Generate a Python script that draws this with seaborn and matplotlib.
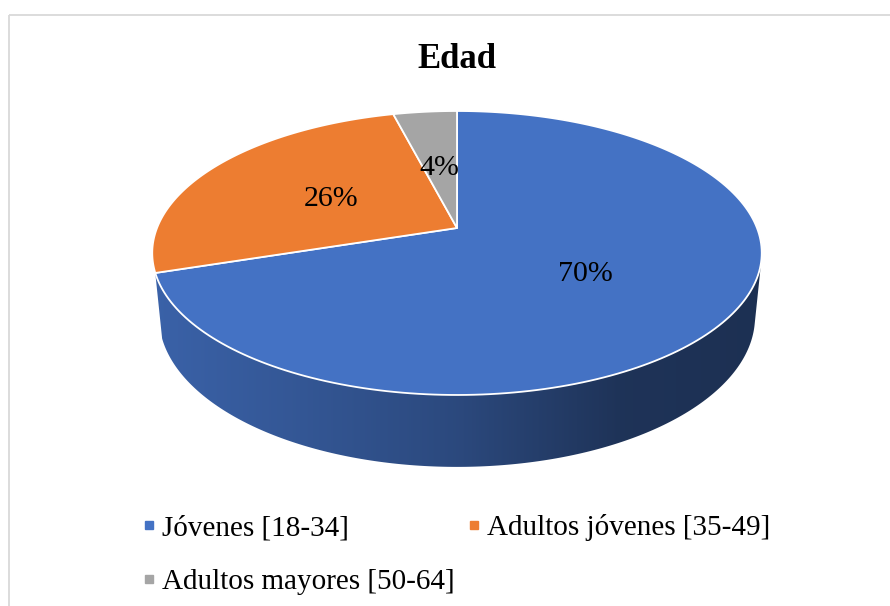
import numpy as np
import matplotlib.pyplot as plt
import seaborn as sns
from matplotlib.patches import Polygon, Rectangle
from matplotlib.lines import Line2D

# data
labels = ['Jóvenes [18-34]', 'Adultos jóvenes [35-49]', 'Adultos mayores [50-64]']
values = [70, 26, 4]
pct_labels = ['70%', '26%', '4%']
hex_colors = ['#4472C4', '#ED7D31', '#A5A5A5']
title = 'Edad'

sns.set_theme(style="white")
plt.rcParams['font.family'] = ['Liberation Serif', 'DejaVu Serif']
plt.rcParams['text.color'] = 'black'
colors = sns.color_palette(hex_colors)

# view of the 3d pie, in screen pixels
CX, CY = 457, 228
ELEV = np.radians(27.3)
DIST = 5.05
FOCAL = 1515
DEPTH = 0.242


def project(x, y, z):
    d = DIST + y * np.cos(ELEV) - z * np.sin(ELEV)
    u = FOCAL * x / d
    v = FOCAL * (y * np.sin(ELEV) + z * np.cos(ELEV)) / d
    return CX + u, CY - v


def arc(t_from, t_to, z, n=200):
    t = np.radians(np.linspace(t_from, t_to, n))
    return np.column_stack(project(np.cos(t), np.sin(t), z))


fig = plt.figure(figsize=(8.9, 6.06), dpi=100)
ax = fig.add_axes([0, 0, 1, 1])

# slice angles, clockwise from the top
fracs = np.array(values, dtype=float) / sum(values)
t_start = 90 - 360 * np.concatenate([[0], np.cumsum(fracs)[:-1]])
t_end = t_start - 360 * fracs

# side walls facing the viewer (tiny slivers at the silhouette are skipped)
a = np.degrees(np.arcsin(1 / (DIST * np.cos(ELEV))))
vis_lo, vis_hi = -180 + a, -a
gx = np.linspace(140, 780, 400)
shade = np.interp(gx, [150, 300, 457, 620, 770], [0.86, 0.76, 0.64, 0.45, 0.42])
for col, t0, t1 in zip(colors, t_start, t_end):
    for shift in (-360, 0, 360):
        lo = max(t1 + shift, vis_lo)
        hi = min(t0 + shift, vis_hi)
        if hi - lo < 10:
            continue
        pts = np.vstack([arc(lo, hi, 0), arc(hi, lo, -DEPTH)])
        clip = Polygon(pts, closed=True, facecolor='none', edgecolor='none')
        ax.add_patch(clip)
        grad = np.clip(np.array(col)[None, None, :] * shade[None, :, None], 0, 1)
        im = ax.imshow(grad, extent=(gx[0], gx[-1], 490, 230), aspect='auto',
                       interpolation='bilinear', zorder=1)
        im.set_clip_path(clip)

# top faces
for col, t0, t1 in zip(colors, t_start, t_end):
    pts = np.vstack([[CX, CY], arc(t0, t1, 0)])
    ax.add_patch(Polygon(pts, closed=True, facecolor=col, edgecolor='white',
                         linewidth=1.3, joinstyle='round', zorder=2))

# percentage labels
for txt, t0, t1 in zip(pct_labels, t_start, t_end):
    tm = np.radians((t0 + t1) / 2)
    x, y = project(0.5 * np.cos(tm), 0.5 * np.sin(tm), 0)
    ax.text(x, y, txt, ha='center', va='center_baseline', fontsize=21.5,
            color='black', zorder=3)

ax.text(457, 68, title, ha='center', va='baseline', fontsize=25,
        fontweight='bold', color='black')

# chart area border
ax.add_patch(Rectangle((8.5, 14.5), 900, 620, fill=False,
                       edgecolor='#d9d9d9', linewidth=1.3))

handles = [Line2D([], [], marker='s', linestyle='none', markersize=6,
                  color=c) for c in colors]
order = [0, 2, 1]
ax.legend([handles[i] for i in order], [labels[i] for i in order], ncol=2,
          loc='upper left', bbox_to_anchor=(143, 514),
          bbox_transform=ax.transData, frameon=False, fontsize=21,
          handlelength=0.4, handletextpad=0.25, columnspacing=0.45,
          labelspacing=0.95, borderpad=0, borderaxespad=0)

ax.set_xlim(0, 890)
ax.set_ylim(606, 0)
ax.axis('off')

fig.savefig('out.png', dpi=100)
